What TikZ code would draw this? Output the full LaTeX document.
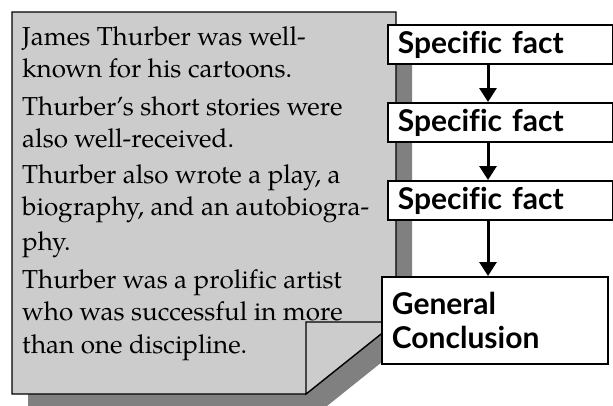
\documentclass[tikz,border=0pt]{standalone}
\usepackage{fontspec}
\newfontfamily\palfont[Ligatures=NoCommon]{TeX Gyre Pagella}
\newfontfamily\gillfont[Ligatures=NoCommon]{Lato}
\usetikzlibrary{arrows.meta}
\definecolor{pagegray}{HTML}{CCCCCC}
\definecolor{shadowgray}{HTML}{808080}
\begin{document}
\begin{tikzpicture}[x=1pt,y=-1pt,
  pagetext/.style={anchor=base west,inner sep=0pt,font=\palfont\fontsize{26}{30}\selectfont},
  boxtext/.style={font=\gillfont\bfseries\fontsize{30}{34}\selectfont},
  factbox/.style={boxtext,draw,line width=1.8pt,fill=white,anchor=north west,
    minimum width=225pt,minimum height=39pt,text width=205pt,align=left,inner xsep=10pt,inner ysep=0pt},
  conbox/.style={boxtext,draw,line width=1.8pt,fill=white,anchor=north west,
    minimum width=226pt,minimum height=87pt,text width=206pt,align=left,inner xsep=10pt,inner ysep=0pt},
  arr/.style={line width=3pt,-{Triangle[width=17pt,length=14pt]}},
  pageshape/.style={fill=pagegray,draw=black,line width=1.3pt,line join=miter}]
\useasboundingbox (0,0) rectangle (613,405);
% shadow
\fill[shadowgray] (28,28) -- (412,28) -- (412,338) -- (322,410) -- (28,410) -- cycle;
% page
\path[pageshape] (12,12) -- (396,12) -- (396,322) -- (306,394) -- (12,394) -- cycle;
\path[pageshape] (306,322) -- (396,322) -- (306,394) -- cycle;
% page text
\node[pagetext] (l1) at (22,45) {James Thurber was well-};
\node[pagetext] (l2) at (22,77) {known for his cartoons.};
\node[pagetext] (l3) at (22,115) {Thurber’s short stories were};
\node[pagetext] (l4) at (22,147) {also well-received.};
\node[pagetext] (l5) at (22,183) {Thurber also wrote a play, a};
\node[pagetext] (l6) at (22,215) {biography, and an autobiogra-};
\node[pagetext] (l7) at (22,250) {phy.};
\node[pagetext] (l8) at (22,288) {Thurber was a prolific artist};
\node[pagetext] (l9) at (22,320) {who was successful in more};
\node[pagetext] (l10) at (22,353) {than one discipline.};
% boxes
\node[factbox] (f1) at (387,24) {Specific fact};
\node[factbox] (f2) at (387,102) {Specific fact};
\node[factbox] (f3) at (387,180) {Specific fact};
\node[conbox] (gc) at (381,276) {General\\Conclusion};
% arrows
\coordinate (ax) at (488,0);
\draw[arr] (f1.south -| ax) -- (f2.north -| ax);
\draw[arr] (f2.south -| ax) -- (f3.north -| ax);
\draw[arr] (f3.south -| ax) -- (gc.north -| ax);
\end{tikzpicture}
\end{document}
